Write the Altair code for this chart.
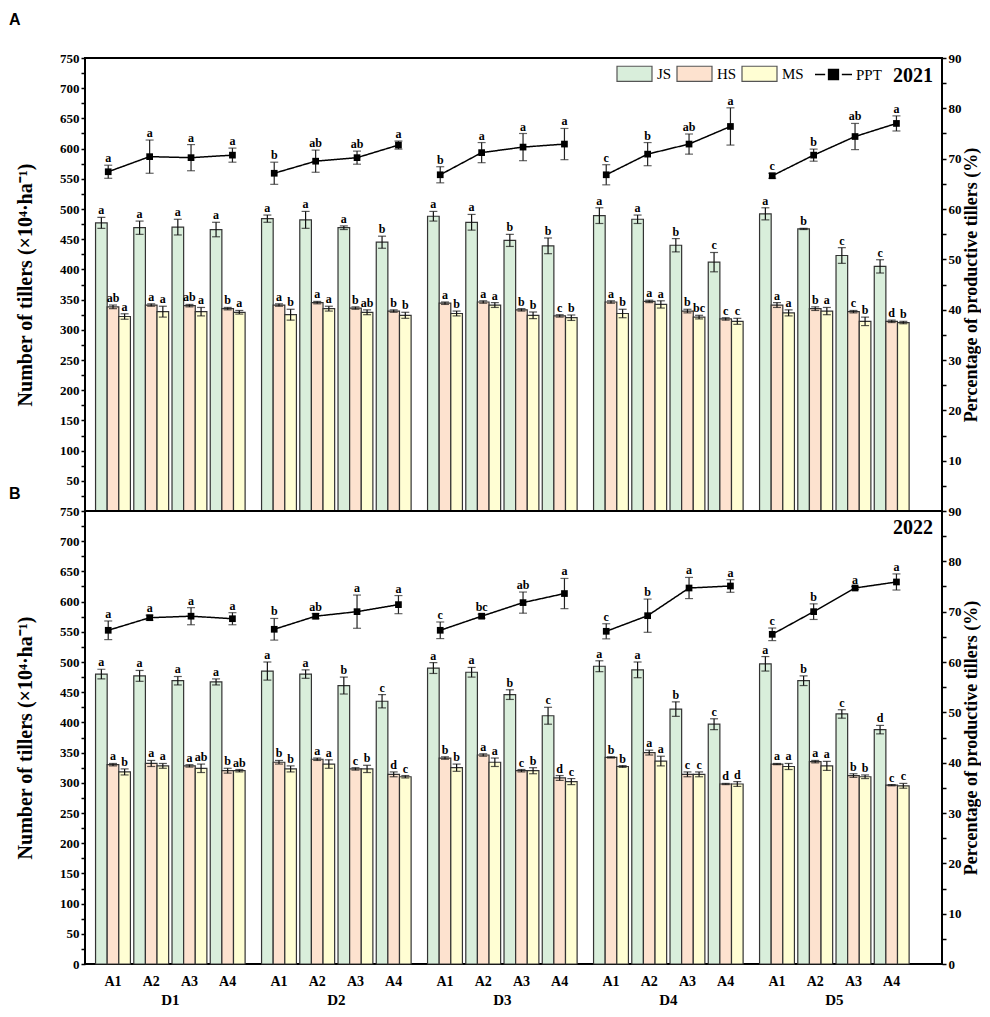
import altair as alt
import pandas as pd

SERIF = "Liberation Serif"
SANS = "Liberation Sans"

D_LABELS = ["D1", "D2", "D3", "D4", "D5"]
A_LABELS = ["A1", "A2", "A3", "A4"]
SERIES = ["JS", "HS", "MS"]
SERIES_COLORS = ["#d9eedb", "#fde2cf", "#fffed3"]

# ---- 2021 (panel A) ----
JS_2021 = [477, 469, 470, 466, 484, 482, 469, 445, 488, 478, 448, 439, 489, 483, 440, 412, 492, 467, 423, 405]
JS_ERR_2021 = [9, 11, 13, 12, 6, 14, 3, 10, 8, 13, 10, 13, 13, 7, 11, 16, 10, 1, 13, 11]
JS_LET_2021 = ["a", "a", "a", "a", "a", "a", "a", "b", "a", "a", "b", "b", "a", "a", "b", "c", "a", "b", "c", "c"]
HS_2021 = [338, 341, 340, 335, 341, 345, 336, 331, 344, 346, 333, 323, 346, 347, 331, 318, 341, 335, 330, 314]
HS_ERR_2021 = [3, 2, 2, 2, 2, 2, 2, 2, 2, 2, 2, 2, 2, 2, 3, 2, 4, 3, 2, 2]
HS_LET_2021 = ["ab", "a", "ab", "b", "a", "a", "b", "b", "a", "a", "b", "c", "a", "a", "b", "c", "a", "b", "c", "d"]
MS_2021 = [322, 330, 330, 329, 325, 335, 329, 324, 327, 341, 324, 320, 327, 342, 321, 314, 328, 331, 314, 312]
MS_ERR_2021 = [4.5, 9, 7, 3, 9, 4, 4, 5, 4, 4, 5.5, 4.5, 7, 6, 3, 5, 5, 6, 7, 2]
MS_LET_2021 = ["a", "a", "a", "a", "b", "a", "ab", "b", "b", "a", "b", "b", "b", "a", "bc", "c", "a", "a", "b", "b"]
PPT_2021 = [67.4, 70.4, 70.2, 70.7, 67.1, 69.5, 70.2, 72.7, 66.8, 71.2, 72.3, 72.9, 66.8, 70.9, 72.9, 76.4, 66.6, 70.7, 74.4, 77.0]
PPT_ERR_2021 = [1.3, 3.3, 2.6, 1.4, 2.2, 2.2, 1.3, 0.8, 1.6, 2.0, 2.7, 3.1, 2.0, 2.3, 2.0, 3.7, 0.5, 1.2, 2.6, 1.5]
PPT_LET_2021 = ["a", "a", "a", "a", "b", "ab", "ab", "a", "b", "a", "a", "a", "c", "b", "ab", "a", "c", "b", "ab", "a"]

# ---- 2022 (panel B) ----
JS_2022 = [480, 477, 469, 467, 485, 480, 461, 435, 490, 483, 446, 411, 493, 487, 422, 397, 497, 469, 414, 388]
JS_ERR_2022 = [8, 9, 7, 5, 15, 7, 14, 11, 9, 8, 8, 14, 9, 13, 12, 9, 12, 8, 7, 7]
JS_LET_2022 = ["a", "a", "a", "a", "a", "a", "b", "c", "a", "a", "b", "c", "a", "a", "b", "c", "a", "b", "c", "d"]
HS_2022 = [330, 332, 328, 320, 334, 339, 323, 314, 341, 346, 320, 308, 342, 350, 314, 298, 331, 335, 312, 296]
HS_ERR_2022 = [2, 5, 2, 4, 3, 2, 2, 4, 2, 2, 2, 4, 1, 4, 4, 1, 1, 2, 3, 1]
HS_LET_2022 = ["a", "a", "a", "b", "b", "a", "c", "d", "b", "a", "c", "d", "b", "a", "c", "d", "a", "a", "b", "c"]
MS_2022 = [318, 328, 324, 320, 323, 331, 323, 310, 325, 334, 320, 302, 327, 336, 314, 298, 327, 328, 310, 295]
MS_ERR_2022 = [5, 4, 7, 2, 5, 7, 6, 2, 6, 7, 5, 5, 1.5, 8, 4, 4, 5, 7.5, 3, 4]
MS_LET_2022 = ["b", "a", "ab", "ab", "b", "a", "b", "c", "b", "a", "b", "c", "b", "a", "c", "d", "a", "a", "b", "c"]
PPT_2022 = [66.3, 68.8, 69.1, 68.6, 66.5, 69.1, 70.0, 71.4, 66.3, 69.1, 71.8, 73.6, 66.1, 69.2, 74.7, 75.1, 65.5, 70.0, 74.7, 75.9]
PPT_ERR_2022 = [1.85, 0.5, 1.7, 1.2, 2.15, 0.5, 3.3, 1.8, 1.65, 0.4, 2.1, 3.0, 1.5, 3.3, 2.1, 1.25, 1.25, 1.55, 0.3, 1.6]
PPT_LET_2022 = ["a", "a", "a", "a", "b", "ab", "a", "a", "c", "bc", "ab", "a", "c", "b", "a", "a", "c", "b", "a", "a"]

# ---- layout constants ----
W, H = 857, 453
D_STEP = 4.342       # distance between D groups in A-units
BAR_W = 0.304        # bar width in A-units
PPT_SPREAD = 1.083   # spacing of PPT points in A-units
X_DOMAIN = [-0.732, 21.684]

xscale = alt.Scale(domain=X_DOMAIN, nice=False, zero=False)
lscale = alt.Scale(domain=[0, 750], nice=False, zero=True)
rscale = alt.Scale(domain=[0, 90], nice=False, zero=True)

BOX_PATH = "M-1,-0.43H1V0.43H-1Z"
PPT_PATH = "M-1,0H-0.45M0.45,0H1M-0.27,-0.27H0.27V0.27H-0.27Z"


def bar_frame(series_data):
    rows = []
    for si, (vals, errs, lets) in enumerate(series_data):
        for i in range(20):
            d, a = divmod(i, 4)
            pos = d * D_STEP + a
            xc = pos + (si - 1) * BAR_W
            rows.append(dict(series=SERIES[si], D=D_LABELS[d], A=A_LABELS[a],
                             value=vals[i], low=vals[i] - errs[i], high=vals[i] + errs[i],
                             letter=lets[i], x=xc - BAR_W / 2, x2=xc + BAR_W / 2, xc=xc))
    return pd.DataFrame(rows)


def ppt_frame(vals, errs, lets):
    rows = []
    for i in range(20):
        d, a = divmod(i, 4)
        px = d * D_STEP + 1.5 + (a - 1.5) * PPT_SPREAD
        rows.append(dict(key="PPT", D=D_LABELS[d], A=A_LABELS[a], ppt=vals[i],
                         low=vals[i] - errs[i], high=vals[i] + errs[i], letter=lets[i], px=px))
    return pd.DataFrame(rows)


def panel(year, panel_letter, series_data, ppt_data, first):
    bdf = bar_frame(series_data)
    pdf = ppt_frame(*ppt_data)

    lvals = list(range(25 if first else 0, 751, 25))
    rvals = list(range(5 if first else 0, 91, 5))

    left_axis = alt.Axis(
        title="Number of tillers (×10⁴·ha⁻¹)", values=lvals,
        labelExpr="datum.value % 50 == 0 ? datum.label : ''",
        tickSize=4, grid=False, domain=False, titlePadding=24, titleFontSize=20,
    )
    right_axis = alt.Axis(
        title="Percentage of productive tillers (%)", orient="right", values=rvals,
        labelExpr="datum.value % 10 == 0 ? datum.label : ''",
        tickSize=4, grid=False, domain=False, titleAngle=270, titleBaseline="top",
        titlePadding=1, titleFontSize=18,
    )

    if first:
        fill_legend = alt.Legend(
            orient="none", legendX=531, legendY=-3, direction="horizontal", title=None,
            symbolType=BOX_PATH, symbolSize=1225, symbolStrokeColor="#555555",
            symbolStrokeWidth=1.2, labelFont=SERIF, labelFontSize=15, labelColor="black",
            labelFontWeight="normal", labelOffset=4, columnPadding=2, padding=0,
        )
        ppt_legend = alt.Legend(
            orient="none", legendX=729, legendY=-3, direction="horizontal", title=None,
            symbolType=PPT_PATH, symbolSize=1369, symbolFillColor="black",
            symbolStrokeColor="black", symbolStrokeWidth=1.3, labelFont=SERIF,
            labelFontSize=15, labelColor="black", labelFontWeight="normal",
            labelOffset=3, padding=0,
        )
    else:
        fill_legend = None
        ppt_legend = None

    X = lambda f: alt.X(f, scale=xscale, axis=None)
    YL = lambda f: alt.Y(f, scale=lscale, axis=left_axis)
    YR = lambda f: alt.Y(f, scale=rscale, axis=right_axis)

    bb = alt.Chart(bdf)
    bars = bb.mark_bar(stroke="#333333", strokeWidth=1.2).encode(
        x=X("x:Q"), x2="x2:Q",
        y=YL("value:Q"), y2=alt.datum(0),
        fill=alt.Fill("series:N", scale=alt.Scale(domain=SERIES, range=SERIES_COLORS),
                      legend=fill_legend, sort=SERIES),
    )
    bar_err = bb.mark_rule(color="#111111", strokeWidth=1.2).encode(
        x=X("xc:Q"), y=YL("low:Q"), y2="high:Q")
    cap_lo = bb.mark_tick(orient="horizontal", size=8, thickness=1.2, color="#111111").encode(
        x=X("xc:Q"), y=YL("low:Q"))
    cap_hi = bb.mark_tick(orient="horizontal", size=8, thickness=1.2, color="#111111").encode(
        x=X("xc:Q"), y=YL("high:Q"))
    bar_let = bb.mark_text(font=SERIF, fontWeight="bold", fontSize=12, baseline="alphabetic",
                           dy=-3, color="black").encode(
        x=X("xc:Q"), y=YL("high:Q"), text="letter:N")

    letter_txt = alt.Chart(pd.DataFrame({"t": [panel_letter]})).mark_text(
        font=SANS, fontWeight="bold", fontSize=16, align="left", baseline="alphabetic",
        color="black").encode(text="t:N", x=alt.value(-76),
                              y=alt.value(-33 if first else -12))
    year_txt = alt.Chart(pd.DataFrame({"t": [year]})).mark_text(
        font=SERIF, fontWeight="bold", fontSize=20, align="right", baseline="middle",
        color="black").encode(text="t:N", x=alt.value(W - 9), y=alt.value(18 if first else 17))

    left_layers = [bars, bar_err, cap_lo, cap_hi, bar_let, letter_txt, year_txt]

    if not first:
        adf = pd.DataFrame({"lab": A_LABELS * 5,
                            "pos": [d * D_STEP + a for d in range(5) for a in range(4)]})
        ddf = pd.DataFrame({"lab": D_LABELS, "pos": [d * D_STEP + 1.5 for d in range(5)]})
        alab = alt.Chart(adf).mark_text(font=SERIF, fontWeight="bold", fontSize=14,
                                        baseline="middle", color="black").encode(
            x=X("pos:Q"), y=alt.value(H + 18), text="lab:N")
        dlab = alt.Chart(ddf).mark_text(font=SERIF, fontWeight="bold", fontSize=15,
                                        baseline="middle", color="black").encode(
            x=X("pos:Q"), y=alt.value(H + 36), text="lab:N")
        left_layers += [alab, dlab]

    pb = alt.Chart(pdf)
    line = pb.mark_line(color="black", strokeWidth=1.5).encode(
        x=X("px:Q"), y=YR("ppt:Q"), detail="D:N",
        strokeDash=alt.StrokeDash("key:N", scale=alt.Scale(domain=["PPT"], range=[[1, 0]]),
                                  legend=ppt_legend),
    )
    p_err = pb.mark_rule(color="#222222", strokeWidth=1.2).encode(
        x=X("px:Q"), y=YR("low:Q"), y2="high:Q")
    p_lo = pb.mark_tick(orient="horizontal", size=8, thickness=1.2, color="#222222").encode(
        x=X("px:Q"), y=YR("low:Q"))
    p_hi = pb.mark_tick(orient="horizontal", size=8, thickness=1.2, color="#222222").encode(
        x=X("px:Q"), y=YR("high:Q"))
    pts = pb.mark_point(shape="square", filled=True, size=45, color="black", opacity=1).encode(
        x=X("px:Q"), y=YR("ppt:Q"))
    p_let = pb.mark_text(font=SERIF, fontWeight="bold", fontSize=12, baseline="alphabetic",
                         dy=-3, color="black").encode(
        x=X("px:Q"), y=YR("high:Q"), text="letter:N")

    left = alt.layer(*left_layers)
    right = alt.layer(line, p_err, p_lo, p_hi, pts, p_let)
    return alt.layer(left, right).resolve_scale(y="independent").properties(width=W, height=H)


pA = panel("2021", "A",
           [(JS_2021, JS_ERR_2021, JS_LET_2021), (HS_2021, HS_ERR_2021, HS_LET_2021),
            (MS_2021, MS_ERR_2021, MS_LET_2021)],
           (PPT_2021, PPT_ERR_2021, PPT_LET_2021), True)
pB = panel("2022", "B",
           [(JS_2022, JS_ERR_2022, JS_LET_2022), (HS_2022, HS_ERR_2022, HS_LET_2022),
            (MS_2022, MS_ERR_2022, MS_LET_2022)],
           (PPT_2022, PPT_ERR_2022, PPT_LET_2022), False)

chart = alt.vconcat(pA, pB, spacing=0, bounds="flush").properties(
    padding={"left": 0, "top": 3, "right": 0, "bottom": 0}
).configure_view(stroke="black", strokeWidth=2).configure_axis(
    labelFont=SERIF, labelFontWeight="bold", labelFontSize=13, labelColor="black",
    titleFont=SERIF, titleFontWeight="bold", titleFontSize=17, titleColor="black",
    tickColor="black", tickWidth=1.5, labelPadding=2,
)

chart.save("out.html", embed_options={"renderer": "svg", "actions": False})
